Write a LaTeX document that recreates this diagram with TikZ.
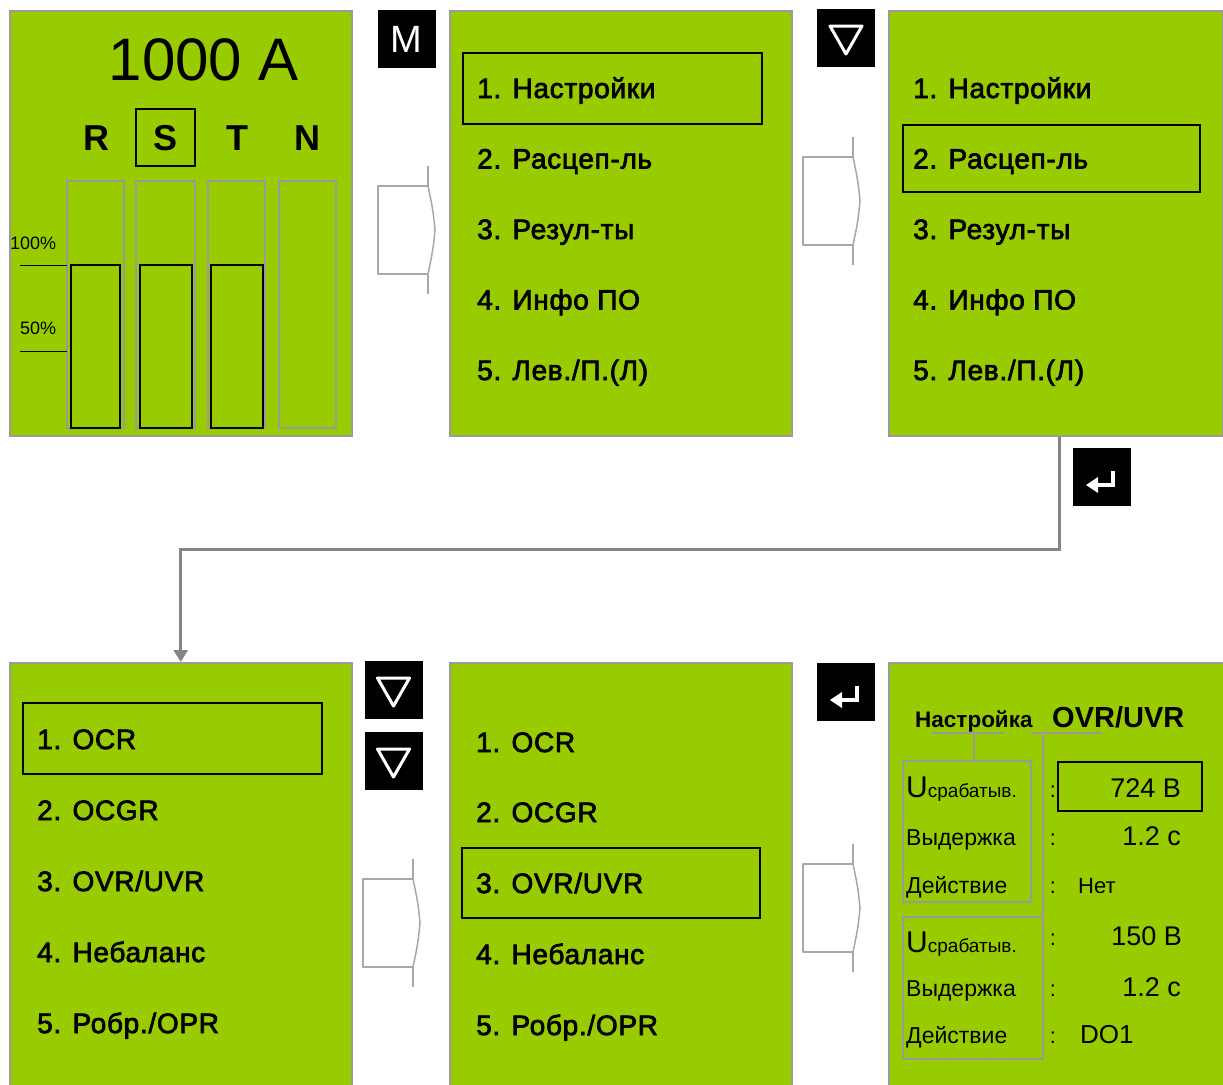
\documentclass[tikz,border=0pt]{standalone}
\usepackage{fontspec}
\setmainfont{Liberation Sans}
\newfontfamily\menufont[FakeBold=2.5, LetterSpace=2.5]{Liberation Sans}
\usetikzlibrary{arrows.meta,calc}
\definecolor{lcd}{HTML}{99CC00}
\definecolor{frame}{HTML}{9A9A9A}
\definecolor{arrgray}{HTML}{A8A8A8}
\definecolor{conngray}{HTML}{858585}
\newcommand\myfs[1]{\fontsize{#1}{#1}\selectfont}
\begin{document}
\begin{tikzpicture}[x=1pt,y=-1pt,
  panel/.style={draw=frame, fill=lcd, line width=1.5pt, anchor=north west, inner sep=0pt},
  item/.style={anchor=base west, inner sep=0pt, font=\menufont\myfs{28}},
  selbox/.style={draw=black, line width=1.5pt},
  btn/.style={fill=black, draw=none, minimum width=58pt, minimum height=58pt, inner sep=0pt},
  glyph/.style={draw=white, line width=3pt, line join=round},
  barrow/.style={draw=arrgray, line width=1.5pt, fill=white, line join=round},
  conn/.style={draw=conngray, line width=2.6pt, -{Triangle[width=14pt,length=12pt]}},
  bargray/.style={draw=frame, line width=1.5pt},
  barblack/.style={draw=black, line width=1.8pt},
  lbl/.style={anchor=base west, inner sep=0pt, font=\myfs{23}},
  val/.style={anchor=base east, inner sep=0pt, font=\myfs{27}},
  pic arrow/.pic={
    \draw[barrow] (50,-64) -- (50,-44) -- (0,-44) -- (0,44) -- (50,44) -- (50,64);
    \draw[barrow, fill=none] (50,-44) .. controls (55,-20) .. (57,0) .. controls (55,20) .. (50,44);
  }]
\clip (0,0) rectangle (1223,1084);
\fill[white] (0,0) rectangle (1223,1084);

% ---------- panels ----------
\node[panel, minimum width=342pt, minimum height=425pt] (p1) at (9,10) {};
\node[panel, minimum width=342pt, minimum height=425pt] (p2) at (449,10) {};
\node[panel, minimum width=334pt, minimum height=425pt] (p3) at (888,10) {};
\node[panel, minimum width=342pt, minimum height=440pt] (p4) at (9,662) {};
\node[panel, minimum width=342pt, minimum height=440pt] (p5) at (449,662) {};
\node[panel, minimum width=342pt, minimum height=440pt] (p6) at (888,662) {};

% ---------- panel 1 ----------
\node[anchor=base, inner sep=0pt, font=\myfs{60}] (amp) at (204,80) {1000 A};
\node[anchor=base, inner sep=0pt, font=\bfseries\myfs{36}] (phR) at (96,150) {R};
\node[anchor=base, inner sep=0pt, font=\bfseries\myfs{36}] (phS) at (166,150) {S};
\node[anchor=base, inner sep=0pt, font=\bfseries\myfs{36}] (phT) at (237,150) {T};
\node[anchor=base, inner sep=0pt, font=\bfseries\myfs{36}] (phN) at (307,150) {N};
\draw[selbox] (136,109) rectangle (195,166);
\draw[bargray] (67,181) rectangle (124,428);
\draw[bargray] (136,181) rectangle (195,428);
\draw[bargray] (208,181) rectangle (265,428);
\draw[bargray] (279,181) rectangle (336,428);
\draw[barblack] (71,265) rectangle (120,428);
\draw[barblack] (140,265) rectangle (192,428);
\draw[barblack] (211,265) rectangle (263,428);
\node[anchor=base west, inner sep=0pt, font=\myfs{18}] (l100) at (10,249) {100\%};
\node[anchor=base west, inner sep=0pt, font=\myfs{18}] (l50) at (20,334) {50\%};
\draw[black, line width=1pt] (20,265) -- (67,265);
\draw[black, line width=1pt] (20,351) -- (67,351);

% ---------- panel 2 ----------
\draw[selbox] (463,53) rectangle (762,124);
\node[item] (a1) at (477,98) {1. Настройки};
\node[item] (a2) at (477,168.5) {2. Расцеп-ль};
\node[item] (a3) at (477,239) {3. Резул-ты};
\node[item] (a4) at (477,309.5) {4. Инфо ПО};
\node[item] (a5) at (477,380) {5. Лев./П.(Л)};

% ---------- panel 3 ----------
\draw[selbox] (903,125) rectangle (1200,192);
\node[item] (b1) at (913,98) {1. Настройки};
\node[item] (b2) at (913,168.5) {2. Расцеп-ль};
\node[item] (b3) at (913,239) {3. Резул-ты};
\node[item] (b4) at (913,309.5) {4. Инфо ПО};
\node[item] (b5) at (913,380) {5. Лев./П.(Л)};

% ---------- panel 4 ----------
\draw[selbox] (23,703) rectangle (322,774);
\node[item] (c1) at (37,749) {1. OCR};
\node[item] (c2) at (37,820) {2. OCGR};
\node[item] (c3) at (37,891) {3. OVR/UVR};
\node[item] (c4) at (37,962) {4. Небаланс};
\node[item] (c5) at (37,1033) {5. Робр./OPR};

% ---------- panel 5 ----------
\draw[selbox] (462,848) rectangle (760,918);
\node[item] (d1) at (476,752) {1. OCR};
\node[item] (d2) at (476,822) {2. OCGR};
\node[item] (d3) at (476,893) {3. OVR/UVR};
\node[item] (d4) at (476,964) {4. Небаланс};
\node[item] (d5) at (476,1035) {5. Робр./OPR};

% ---------- panel 6 ----------
\node[anchor=base west, inner sep=0pt, font=\bfseries\myfs{22.5}] (t1) at (915,727) {Настройка};
\node[anchor=base west, inner sep=0pt, font=\bfseries\myfs{29}] (t2) at (1052,727) {OVR/UVR};
\draw[frame, line width=1.5pt] (932,733) -- (1003,733);
\draw[frame, line width=1.5pt] (1031,733) -- (1102,733);
\draw[frame, line width=1.5pt] (974,733) -- (974,761);
\draw[frame, line width=1.5pt] (903,761) rectangle (1031,902);
\draw[frame, line width=1.5pt] (1043,733) -- (1043,917);
\draw[frame, line width=1.5pt] (903,917) rectangle (1043,1059);
\node[lbl] (u1) at (906,797) {{\myfs{30}U}{\myfs{19}срабатыв.}};
\node[lbl] (v1) at (906,845) {Выдержка};
\node[lbl] (w1) at (906,893) {Действие};
\node[lbl] (u2) at (906,952) {{\myfs{30}U}{\myfs{19}срабатыв.}};
\node[lbl] (v2) at (906,996) {Выдержка};
\node[lbl] (w2) at (906,1043) {Действие};
\foreach \yy/\nm in {797/k1,845/k2,893/k3,945/k4,996/k5,1043/k6}
  \node[anchor=base, inner sep=0pt, font=\myfs{22}] (\nm) at (1053,\yy) {:};
\draw[selbox] (1058,762) rectangle (1202,811);
\node[val] (x1) at (1181,797) {724 В};
\node[val] (x2) at (1181,845) {1.2 с};
\node[anchor=base west, inner sep=0pt, font=\myfs{22}] (x3) at (1078,893) {Нет};
\node[val] (x4) at (1182,945) {150 В};
\node[val] (x5) at (1181,996) {1.2 с};
\node[anchor=base west, inner sep=0pt, font=\myfs{26}] (x6) at (1080,1043) {DO1};

% ---------- block arrows ----------
\pic at (378,230) {pic arrow};
\pic at (803,201) {pic arrow};
\pic at (363,923) {pic arrow};
\pic at (803,908) {pic arrow};

% ---------- buttons ----------
\node[btn] (bM) at (406.5,38.5) {};
\node[inner sep=0pt, text=white, font=\myfs{38}] (bMt) at (406.5,39) {M};
\node[btn] (bD1) at (846,38) {};
\draw[glyph] ($(bD1)+(-16,-12)$) -- ($(bD1)+(16,-12)$) -- ($(bD1)+(0,16)$) -- cycle;
\node[btn] (bE1) at (1102,477) {};
\node[btn] (bD2) at (393.5,690) {};
\draw[glyph] ($(bD2)+(-16,-12)$) -- ($(bD2)+(16,-12)$) -- ($(bD2)+(0,16)$) -- cycle;
\node[btn] (bD3) at (393.5,761) {};
\draw[glyph] ($(bD3)+(-16,-12)$) -- ($(bD3)+(16,-12)$) -- ($(bD3)+(0,16)$) -- cycle;
\node[btn] (bE2) at (846,692) {};
\foreach \b in {bE1,bE2}{
  \draw[white, line width=4.5pt] ($(\b)+(11,-6)$) -- ($(\b)+(11,8)$) -- ($(\b)+(-6,8)$);
  \fill[white] ($(\b)+(-16,8)$) -- ($(\b)+(-4,0)$) -- ($(\b)+(-4,16)$) -- cycle;
}

% ---------- connector ----------
\draw[conn] (p3.south) ++(4,0) -- ++(0,113) -| (p4.north);
\end{tikzpicture}
\end{document}
